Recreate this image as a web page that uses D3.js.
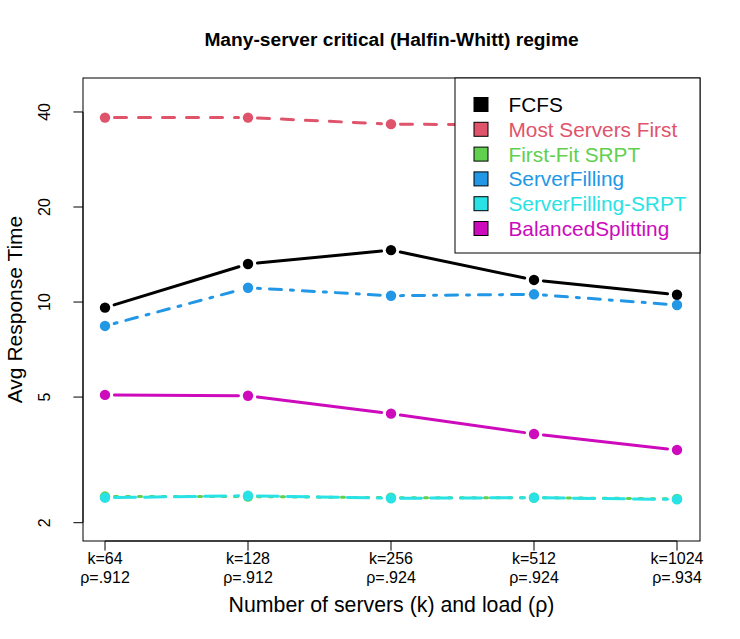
<!DOCTYPE html>
<html><head><meta charset="utf-8">
<script src="https://cdn.jsdelivr.net/npm/d3@7"></script>
<style>body{margin:0;background:#fff}svg{display:block}text{font-family:"Liberation Sans",Arial,Helvetica,sans-serif}</style>
</head><body>
<script>
// ---- data ----
const categories = ["k=64|ρ=.912","k=128|ρ=.912","k=256|ρ=.924","k=512|ρ=.924","k=1024|ρ=.934"];
const seriesNames = ["FCFS","Most Servers First","First-Fit SRPT","ServerFilling","ServerFilling-SRPT","BalancedSplitting"];
const fcfs        = [9.60, 13.2, 14.6, 11.75, 10.55];
const msf         = [38.4, 38.4, 36.6, 36.4, 36.0];
const ffSrpt      = [2.42, 2.42, 2.40, 2.40, 2.38];
const serverFill  = [8.40, 11.1, 10.47, 10.58, 9.79];
const sfSrpt      = [2.40, 2.435, 2.39, 2.40, 2.37];
const balanced    = [5.08, 5.05, 4.43, 3.82, 3.40];
const yTicks      = [2, 5, 10, 20, 40];
const colors      = ["#000000","#DF536B","#61D04F","#2297E6","#28E2E5","#CD0BBC"];
const dashes      = [null, "12,12", "3,9", "3,9,12,9", "21,9", null];
const allSeries = [fcfs, msf, ffSrpt, serverFill, sfSrpt, balanced];

const W = 740, H = 639;
const L = 83, R = 700, T = 78, B = 541;
const svg = d3.select("body").append("svg").attr("width", W).attr("height", H);

const x = d3.scalePoint().domain(d3.range(categories.length)).range([105, 677]);
const y = d3.scaleLog().domain([1.75, 51.25]).range([B, T]);

// series
const gap = 9.5;
allSeries.forEach((vals, si) => {
  const g = svg.append("g");
  const pts = vals.map((v, i) => [x(i), y(v)]);
  for (let i = 0; i < pts.length - 1; i++) {
    const [x1, y1] = pts[i], [x2, y2] = pts[i + 1];
    const dx = x2 - x1, dy = y2 - y1, len = Math.hypot(dx, dy);
    const ux = dx / len, uy = dy / len;
    g.append("line")
      .attr("x1", x1 + ux * gap).attr("y1", y1 + uy * gap)
      .attr("x2", x2 - ux * gap).attr("y2", y2 - uy * gap)
      .attr("stroke", colors[si]).attr("stroke-width", 3)
      .attr("stroke-linecap", "round")
      .attr("stroke-dasharray", dashes[si]);
  }
  g.selectAll("circle").data(pts).join("circle")
    .attr("cx", d => d[0]).attr("cy", d => d[1]).attr("r", 5.2)
    .attr("fill", colors[si]);
});

// box
svg.append("rect").attr("x", L).attr("y", T).attr("width", R - L).attr("height", B - T)
  .attr("fill", "none").attr("stroke", "#000").attr("stroke-width", 1);

// x axis
const xa = svg.append("g");
categories.forEach((c, i) => {
  xa.append("line").attr("x1", x(i)).attr("x2", x(i)).attr("y1", B).attr("y2", B + 9.6).attr("stroke", "#000");
  const parts = c.split("|");
  xa.append("text").attr("x", x(i)).attr("y", 563.5).attr("text-anchor", "middle").attr("font-size", 16).text(parts[0]);
  xa.append("text").attr("x", x(i)).attr("y", 583).attr("text-anchor", "middle").attr("font-size", 16).text(parts[1]);
});
xa.append("line").attr("x1", x(0)).attr("x2", x(4)).attr("y1", B).attr("y2", B).attr("stroke", "#000");

// y axis
const ya = svg.append("g");
yTicks.forEach(t => {
  ya.append("line").attr("x1", L).attr("x2", L - 9.6).attr("y1", y(t)).attr("y2", y(t)).attr("stroke", "#000");
  ya.append("text").attr("transform", `translate(50,${y(t)}) rotate(-90)`).attr("text-anchor", "middle")
    .attr("font-size", 16).text(t);
});
ya.append("line").attr("x1", L).attr("x2", L).attr("y1", y(yTicks[0])).attr("y2", y(yTicks[yTicks.length-1])).attr("stroke", "#000");

// titles
svg.append("text").attr("x", (L + R) / 2).attr("y", 46).attr("text-anchor", "middle")
  .attr("font-size", 19.2).attr("font-weight", "bold").text("Many-server critical (Halfin-Whitt) regime");
svg.append("text").attr("x", (L + R) / 2).attr("y", 612).attr("text-anchor", "middle")
  .attr("font-size", 21.3).text("Number of servers (k) and load (ρ)");
svg.append("text").attr("transform", `translate(22,${(T + B) / 2}) rotate(-90)`).attr("text-anchor", "middle")
  .attr("font-size", 21).text("Avg Response Time");

// legend
const lg = svg.append("g");
lg.append("rect").attr("x", 455).attr("y", T).attr("width", R - 455).attr("height", 253 - T)
  .attr("fill", "#fff").attr("stroke", "#000").attr("stroke-width", 1);
seriesNames.forEach((n, i) => {
  const cy = 104.5 + i * 24.8;
  lg.append("rect").attr("x", 481 - 7).attr("y", cy - 7).attr("width", 14).attr("height", 14)
    .attr("fill", colors[i]).attr("stroke", "#000").attr("stroke-width", 1);
  lg.append("text").attr("x", 508.5).attr("y", cy + 7.4).attr("font-size", 20.8)
    .attr("fill", colors[i]).text(n);
});
</script>
</body></html>
